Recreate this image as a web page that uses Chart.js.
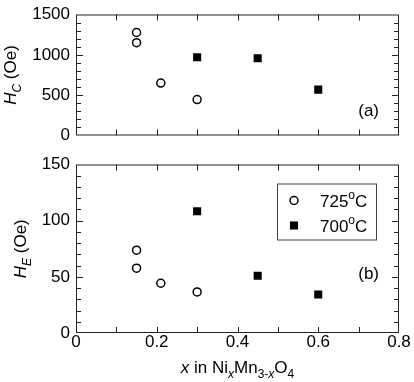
<!DOCTYPE html>
<html>
<head>
<meta charset="utf-8">
<script src="https://cdn.jsdelivr.net/npm/chart.js@4.4.0/dist/chart.umd.min.js"></script>
<style>
    html, body { margin: 0; padding: 0; background: #fff; }
    #top { position: absolute; left: 0; top: 0; width: 414px; height: 150px; }
    #bot { position: absolute; left: 0; top: 150px; width: 414px; height: 232px; }
</style>
</head>
<body>
<div id="top"><canvas id="hc"></canvas></div>
<div id="bot"><canvas id="he"></canvas></div>
<script>
// data
const x725 = [0.15, 0.15, 0.21, 0.30];
const hc725 = [1277, 1150, 650, 446];
const he725 = [73.7, 57.7, 44.3, 36.6];
const x700 = [0.30, 0.45, 0.60];
const hc700 = [969, 958, 569];
const he700 = [108.3, 50.9, 34.3];
const seriesTemps = ['725', '700'];
const xTicks = [0, 0.2, 0.4, 0.6, 0.8];
const hcTicks = [0, 500, 1000, 1500];
const heTicks = [0, 50, 100, 150];

const FONT = '"Liberation Sans", Arial, sans-serif';

function fontFor(p, size) {
    const s = (p.sub || p.sup) ? Math.round(size * 0.72) : size;
    return (p.it ? 'italic ' : '') + s + 'px ' + FONT;
}

// text with sub/superscripts, x is the start (or centre when center=true)
function drawRich(ctx, parts, x, y, size, center) {
    let w = 0;
    parts.forEach(p => {
        ctx.font = fontFor(p, size);
        p.w = ctx.measureText(p.t).width;
        w += p.w;
    });
    let cx = center ? x - w / 2 : x;
    ctx.textAlign = 'left';
    ctx.textBaseline = 'alphabetic';
    parts.forEach(p => {
        ctx.font = fontFor(p, size);
        const dy = p.sub ? size * 0.3 : (p.sup ? -size * 0.45 : 0);
        ctx.fillText(p.t, cx, y + dy);
        cx += p.w;
    });
}

function toPoints(xs, ys) {
    return xs.map((x, i) => ({ x: x, y: ys[i] }));
}

// box round the plot + inward ticks on all four sides
function framePlugin(cfg) {
    return {
        id: 'frame',
        afterDatasetsDraw(chart) {
            const ctx = chart.ctx;
            const a = chart.chartArea;
            const xs = chart.scales.x, ys = chart.scales.y;
            ctx.save();
            ctx.strokeStyle = '#222';
            ctx.lineWidth = 1;
            ctx.strokeRect(a.left + 0.5, a.top + 0.5, a.right - a.left - 1, a.bottom - a.top - 1);
            ctx.beginPath();
            for (let i = 1; i < 8; i++) {
                const px = Math.round(xs.getPixelForValue(i / 10)) + 0.5;
                const len = 6;
                ctx.moveTo(px, a.bottom); ctx.lineTo(px, a.bottom - len);
                ctx.moveTo(px, a.top); ctx.lineTo(px, a.top + len);
            }
            for (let v = cfg.minor; v < cfg.max; v += cfg.minor) {
                const py = Math.round(ys.getPixelForValue(v)) + 0.5;
                const len = (Math.round(v / cfg.minor) % 5 === 0) ? 7 : 5;
                ctx.moveTo(a.left, py); ctx.lineTo(a.left + len, py);
                ctx.moveTo(a.right, py); ctx.lineTo(a.right - len, py);
            }
            ctx.stroke();

            ctx.fillStyle = '#000';
            // panel tag
            ctx.font = '17px ' + FONT;
            ctx.textAlign = 'right';
            ctx.textBaseline = 'middle';
            ctx.fillText(cfg.tag, a.right - 20, a.bottom - cfg.tagUp);

            // y title
            ctx.save();
            ctx.translate(cfg.titleX, (a.top + a.bottom) / 2);
            ctx.rotate(-Math.PI / 2);
            drawRich(ctx, [
                { t: 'H', it: true },
                { t: cfg.sub, it: true, sub: true },
                { t: ' (Oe)' }
            ], 0, 0, 17, true);
            ctx.restore();

            if (cfg.xTitle) {
                drawRich(ctx, [
                    { t: 'x', it: true },
                    { t: ' in Ni' },
                    { t: 'x', it: true, sub: true },
                    { t: 'Mn' },
                    { t: '3-', sub: true },
                    { t: 'x', it: true, sub: true },
                    { t: 'O' },
                    { t: '4', sub: true }
                ], (a.left + a.right) / 2, chart.height - 9, 17, true);
            }

            if (cfg.legend) {
                const bx = a.right - 122, by = a.top + 19;
                ctx.strokeStyle = '#444';
                ctx.strokeRect(bx + 0.5, by + 0.5, 99, 56);
                chart.data.datasets.forEach((ds, i) => {
                    const my = by + 17 + i * 25;
                    const mx = bx + 17;
                    ctx.beginPath();
                    if (ds.pointStyle === 'circle') {
                        ctx.arc(mx, my, ds.pointRadius, 0, Math.PI * 2);
                        ctx.fillStyle = ds.backgroundColor;
                        ctx.fill();
                        ctx.lineWidth = ds.borderWidth;
                        ctx.strokeStyle = ds.borderColor;
                        ctx.stroke();
                    } else {
                        const s = ds.pointRadius * Math.SQRT1_2;
                        ctx.fillStyle = ds.backgroundColor;
                        ctx.fillRect(mx - s, my - s, 2 * s, 2 * s);
                    }
                    ctx.fillStyle = '#000';
                    drawRich(ctx, [
                        { t: seriesTemps[i] },
                        { t: 'o', sup: true },
                        { t: 'C' }
                    ], bx + 43, my + 6, 17, false);
                });
            }
            ctx.restore();
        }
    };
}

function datasets(y725, y700) {
    return [
        {
            label: seriesTemps[0] + '°C',
            data: toPoints(x725, y725),
            pointStyle: 'circle',
            pointRadius: 4,
            borderWidth: 1.5,
            borderColor: '#000',
            backgroundColor: '#fff'
        },
        {
            label: seriesTemps[1] + '°C',
            data: toPoints(x700, y700),
            pointStyle: 'rect',
            pointRadius: 5.7,
            borderWidth: 0,
            borderColor: '#000',
            backgroundColor: '#000'
        }
    ];
}

function yScale(ticks) {
    return {
        type: 'linear',
        min: ticks[0],
        max: ticks[ticks.length - 1],
        afterBuildTicks: s => { s.ticks = ticks.map(v => ({ value: v })); },
        ticks: {
            color: '#000',
            padding: 6,
            font: { family: FONT, size: 17, lineHeight: 1 },
            callback: v => String(v)
        },
        grid: { display: false, drawTicks: false },
        border: { display: false },
        afterFit: s => { s.width = 76; }
    };
}

Chart.defaults.animation = false;

new Chart(document.getElementById('hc').getContext('2d'), {
    type: 'scatter',
    data: { datasets: datasets(hc725, hc700) },
    options: {
        responsive: true,
        maintainAspectRatio: false,
        devicePixelRatio: 1,
        layout: { padding: { left: 0, right: 15, top: 9, bottom: 11 } },
        plugins: { legend: { display: false }, tooltip: { enabled: false } },
        scales: {
            x: { type: 'linear', min: 0, max: 0.8, display: false },
            y: yScale(hcTicks)
        }
    },
    plugins: [framePlugin({ minor: 100, max: 1500, tag: '(a)', tagUp: 24, sub: 'C', titleX: 16 })]
});

new Chart(document.getElementById('he').getContext('2d'), {
    type: 'scatter',
    data: { datasets: datasets(he725, he700) },
    options: {
        responsive: true,
        maintainAspectRatio: false,
        devicePixelRatio: 1,
        layout: { padding: { left: 0, right: 15, top: 8, bottom: 0 } },
        plugins: { legend: { display: false }, tooltip: { enabled: false } },
        scales: {
            x: {
                type: 'linear',
                min: 0,
                max: 0.8,
                afterBuildTicks: s => { s.ticks = xTicks.map(v => ({ value: v })); },
                ticks: {
                    color: '#000',
                    padding: 1,
                    maxRotation: 0,
                    font: { family: FONT, size: 17, lineHeight: 1 },
                    callback: v => v === 0 ? '0' : v.toFixed(1)
                },
                grid: { display: false, drawTicks: false },
                border: { display: false },
                afterFit: s => { s.height = 49; }
            },
            y: yScale(heTicks)
        }
    },
    plugins: [framePlugin({ minor: 10, max: 150, tag: '(b)', tagUp: 59, sub: 'E', titleX: 26, xTitle: true, legend: true })]
});
</script>
</body>
</html>
